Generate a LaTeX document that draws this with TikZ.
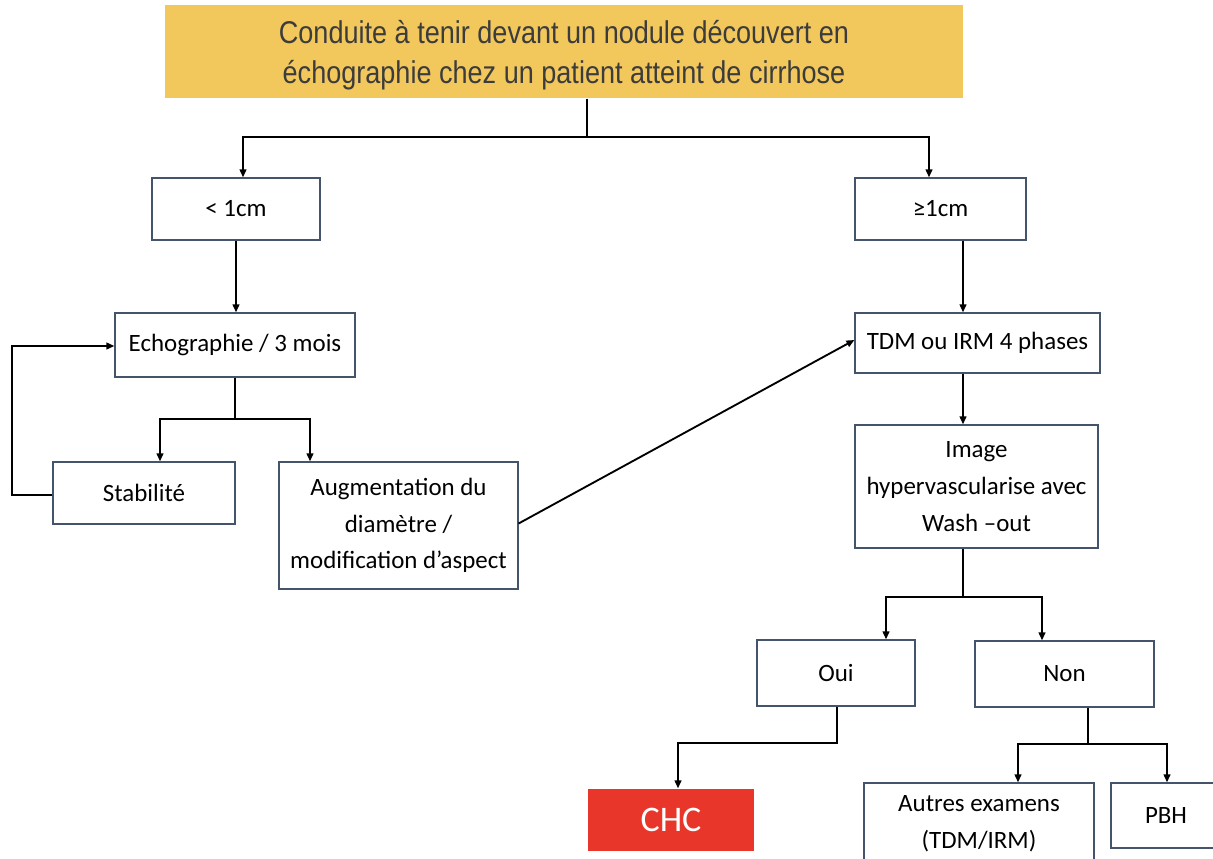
\documentclass[tikz,border=0pt]{standalone}
\usepackage{fontspec}
\setmainfont{Carlito}
\newfontfamily\headfont[FakeStretch=0.86]{Liberation Sans}
\usetikzlibrary{arrows.meta,calc}
\definecolor{headfill}{HTML}{F2C75C}
\definecolor{headtext}{HTML}{3C3C3C}
\definecolor{boxline}{HTML}{44546A}
\definecolor{chcred}{HTML}{E8372A}
\begin{document}
\begin{tikzpicture}[x=0.75pt,y=-0.75pt,
  box/.style 2 args={draw=boxline,line width=0.9pt,fill=white,align=center,
    minimum width=#1*0.75pt,minimum height=#2*0.75pt,inner sep=2pt,
    font=\fontsize{18.7}{27.5}\selectfont},
  conn/.style={line width=1.4pt,black},
  arr/.style={conn,-{Triangle[length=6pt,width=5pt]}}]
\useasboundingbox (0,0) rectangle (1213,859);

% header
\node[box={798}{93},draw=none,fill=headfill,text=headtext,
  font=\headfont\fontsize{23.6}{30}\selectfont] (title) at (564,51.5) {};
\node[align=center,text=headtext,font=\headfont\fontsize{23.6}{30}\selectfont]
  (titletext) at (564,55)
  {Conduite à tenir devant un nodule découvert en\\échographie chez un patient atteint de cirrhose};

% left branch
\node[box={168}{62}] (lt) at (236,209) {< 1cm};
\node[box={240}{64}] (echo) at (235,345) {Echographie / 3 mois};
\node[box={182}{62}] (stab) at (144,493) {Stabilité};
\node[box={239}{127}] (aug) at (398.5,525.5) {Augmentation du\\diamètre /\\modification d’aspect};

% right branch
\node[box={171}{62}] (ge) at (940.5,209) {≥1cm};
\node[box={245}{60}] (tdm) at (977.5,343) {TDM ou IRM 4 phases};
\node[box={243}{123}] (img) at (976.5,486.5) {Image\\hypervascularise avec\\Wash –out};
\node[box={158}{66}] (oui) at (836,673) {Oui};
\node[box={179}{66}] (non) at (1064.5,674) {Non};
\node[box={166}{62},draw=none,fill=chcred,text=white,
  font=\fontsize{27}{30}\selectfont] (chc) at (671,820) {CHC};
\node[box={230}{82}] (autres) at (979,824) {Autres examens\\(TDM/IRM)};
\node[box={110}{65}] (pbh) at (1166,815.5) {PBH};

% connectors
\coordinate (jt) at (587,137);
\draw[conn] (title.south -| jt) -- (jt);
\draw[arr] (jt) -| ($(lt.north)+(7,0)$);
\draw[arr] (jt) -| ($(ge.north)+(-11.5,0)$);

\draw[arr] (lt.south) -- (lt.south |- echo.north);
\coordinate (gx) at ($(ge.south)+(22.5,0)$);
\draw[arr] (gx) -- (gx |- tdm.north);

\coordinate (je) at ($(echo.south)+(0,41)$);
\draw[conn] (echo.south) -- (je);
\draw[arr] (je) -| ($(stab.north)+(16,0)$);
\draw[arr] (je) -| ($(aug.north)+(-88.5,0)$);
\draw[arr] ($(stab.west)+(0,2)$) -- ++(-40,0) |- ($(echo.west)+(0,1)$);
\draw[arr] ($(aug.east)+(0,-2)$) -- ($(tdm.west)+(0,-3)$);

\coordinate (tx) at ($(tdm.south)+(-14.5,0)$);
\draw[arr] (tx) -- (tx |- img.north);

\coordinate (ji) at ($(img.south)+(-13.5,48)$);
\draw[conn] (ji |- img.south) -- (ji);
\draw[arr] (ji) -| ($(oui.north)+(50,0)$);
\draw[arr] (ji) -| ($(non.north)+(-22.5,0)$);

\draw[arr] ($(oui.south)+(1,0)$) -- ++(0,36) -| ($(chc.north)+(7,0)$);

\coordinate (jn) at ($(non.south)+(23.5,36)$);
\draw[conn] (jn |- non.south) -- (jn);
\draw[arr] (jn) -| ($(autres.north)+(39,0)$);
\draw[arr] (jn) -| ($(pbh.north)+(1,0)$);
\end{tikzpicture}
\end{document}
